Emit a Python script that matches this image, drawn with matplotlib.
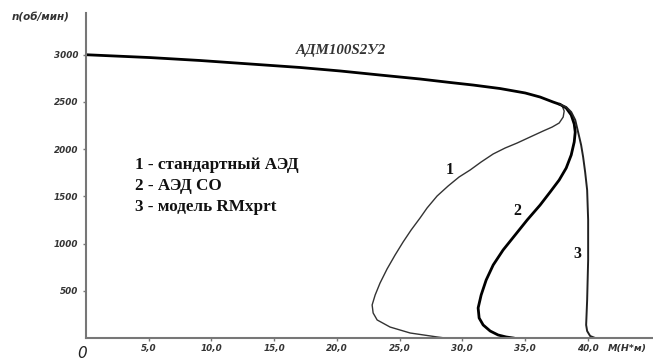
import numpy as np
from matplotlib import pyplot as plt

# shared part of the characteristic, M (Н*м) vs n (об/мин)
M_top = [0.0, 5.1, 9.09, 13.08, 17.07, 20.26, 23.44, 26.63, 29.03, 30.86, 33.01, 35.01, 36.2, 37.24, 37.8]
n_top = [3000, 2970, 2939, 2902, 2865, 2828, 2785, 2743, 2706, 2679, 2642, 2595, 2552, 2499, 2473]

# 1 - standard motor
M1 = [37.96, 38.12, 38.04, 37.72, 37.16, 36.44, 35.41, 34.37, 33.41, 32.46, 31.5, 30.62, 29.74, 28.87, 27.99,
      27.19, 26.63, 25.92, 25.28, 24.64, 24.0, 23.44, 23.05, 22.81, 22.89, 23.21, 24.24, 25.84, 27.99, 28.63]
n1 = [2458, 2404, 2340, 2277, 2234, 2192, 2129, 2065, 2012, 1949, 1864, 1779, 1705, 1610, 1504,
      1377, 1271, 1144, 1017, 879, 731, 582, 455, 350, 265, 191, 116, 53, 11, 0]

# 2 - АЭД СО
M2 = [38.28, 38.68, 38.92, 39.0, 38.92, 38.68, 38.28, 37.72, 37.0, 36.2, 35.17, 34.21, 33.25, 32.46, 31.9,
      31.5, 31.26, 31.34, 31.66, 32.22, 32.85, 33.49, 34.05]
n2 = [2436, 2362, 2266, 2181, 2076, 1938, 1800, 1673, 1546, 1408, 1250, 1091, 932, 773, 614,
      455, 318, 212, 138, 74, 32, 11, 0]

# 3 - RMxprt model
M3 = [38.28, 38.68, 39.0, 39.23, 39.47, 39.63, 39.79, 39.95, 40.03, 40.03, 39.95, 39.87, 39.95, 40.19, 40.59]
n3 = [2446, 2393, 2309, 2181, 2044, 1917, 1758, 1567, 1250, 826, 402, 138, 74, 21, 0]

xticks = [5, 10, 15, 20, 25, 30, 35, 40]
xticklabels = ['5,0', '10,0', '15,0', '20,0', '25,0', '30,0', '35,0', '40,0']
yticks = [500, 1000, 1500, 2000, 2500, 3000]

fig = plt.figure(figsize=(6.53, 3.63), dpi=100)
ax = fig.add_axes([86/653., 1-338/363., 1-86/653., (338-13)/363.])
ax.set_xlim(0, 45.2)
ax.set_ylim(0, 3442)

ax.plot(M_top, n_top, color='k', lw=2.0, solid_capstyle='round')
ax.plot(M_top[-1:] + M1, n_top[-1:] + n1, color='#333333', lw=1.0)
ax.plot(M_top[-1:] + M2, n_top[-1:] + n2, color='k', lw=2.0)
ax.plot(M_top[-1:] + M3, n_top[-1:] + n3, color='#222222', lw=1.4)

for s in ['top', 'right']:
    ax.spines[s].set_visible(False)
for s in ['left', 'bottom']:
    ax.spines[s].set_color('#777777')
    ax.spines[s].set_linewidth(1.5)

tick_font = dict(family='DejaVu Sans', style='italic', weight='bold', size=6.3, color='#333333')
ax.set_xticks(xticks)
ax.set_xticklabels(xticklabels, **tick_font)
ax.set_yticks(yticks)
ax.set_yticklabels([str(v) for v in yticks], **tick_font)
ax.tick_params(axis='x', length=2.5, width=1, color='#777777', pad=2)
ax.tick_params(axis='y', length=2.5, width=1, color='#777777', pad=3)

fig.text(82/653., 1-354/363., '0', family='DejaVu Sans', style='italic', size=11, color='#222222', ha='center', va='center')
fig.text(12/653., 1-18/363., 'n(об/мин)', **dict(tick_font, size=7.5), ha='left', va='center')
fig.text(608/653., 1-348/363., 'M(Н*м)', **dict(tick_font, size=6.8), ha='left', va='center')

ax.text(20.3, 3050, 'АДМ100S2У2', family='Liberation Serif', style='italic', weight='bold', size=10.8, color='#333333', ha='center', va='center')

leg_font = dict(family='Liberation Serif', weight='bold', size=12.3, color='#111111', ha='left', va='center')
ax.text(3.9, 1827, '1 - стандартный АЭД', **leg_font)
ax.text(3.9, 1610, '2 - АЭД СО', **leg_font)
ax.text(3.9, 1388, '3 - модель RMxprt', **leg_font)

num_font = dict(family='Liberation Serif', weight='bold', size=11.5, color='#111111', ha='center', va='center')
ax.text(29.0, 1775, '1', **num_font)
ax.text(34.4, 1350, '2', **num_font)
ax.text(39.2, 890, '3', **num_font)

plt.savefig('out.png', dpi=100)
